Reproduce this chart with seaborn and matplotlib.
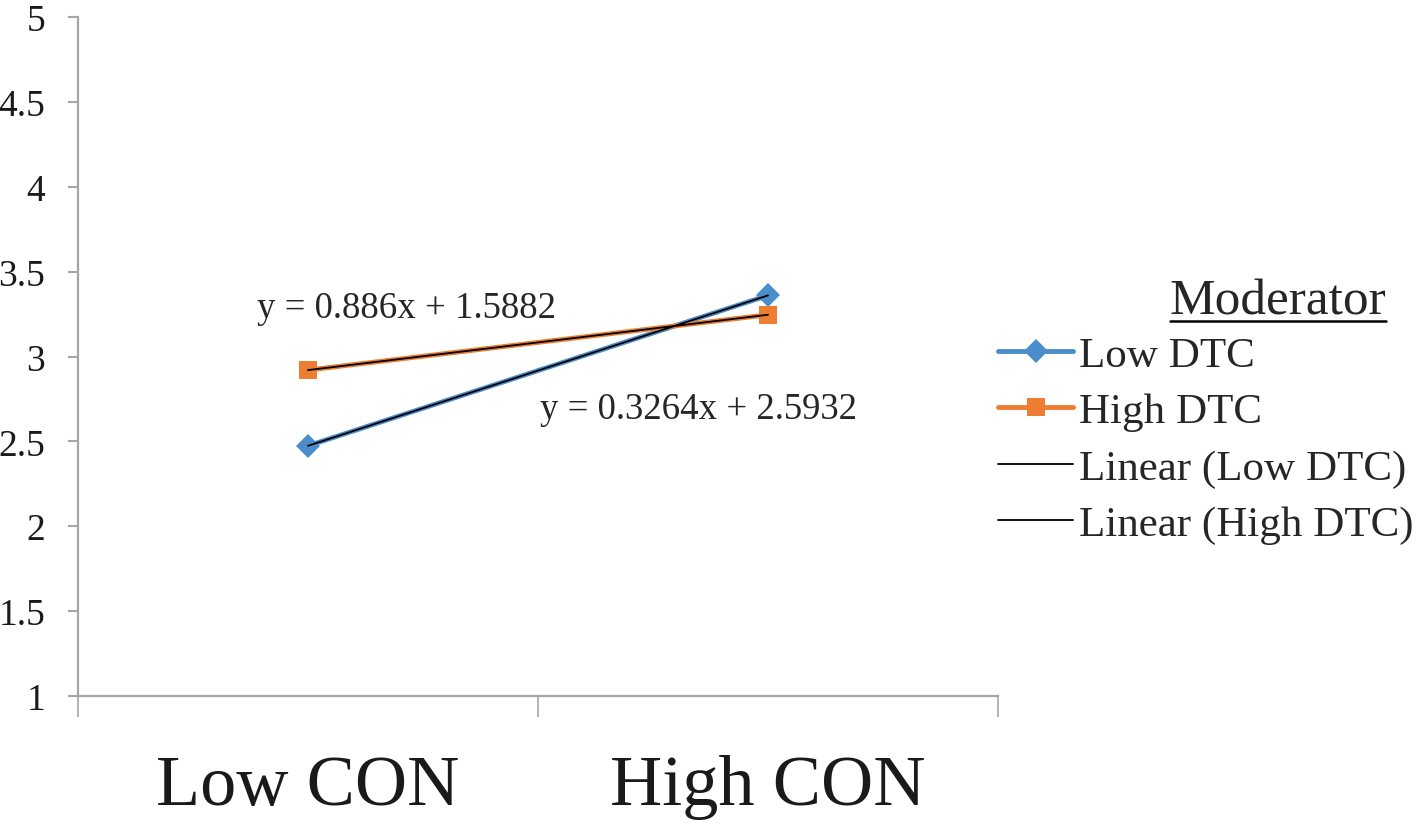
import numpy as np
import pandas as pd
import matplotlib
matplotlib.use("Agg")
import matplotlib.pyplot as plt
from matplotlib.lines import Line2D
import seaborn as sns

conditions = ["Low CON", "High CON"]
series = ["Low DTC", "High DTC"]
low_dtc = [2.474, 3.36]
high_dtc = [2.92, 3.246]
eq_labels = ["y = 0.886x + 1.5882", "y = 0.3264x + 2.5932"]
y_ticks = [1, 1.5, 2, 2.5, 3, 3.5, 4, 4.5, 5]

colors = {"Low DTC": "#4A8DCB", "High DTC": "#ED7D31"}
markers = {"Low DTC": "D", "High DTC": "s"}

sns.set_style("white")
plt.rcParams["font.family"] = ["Liberation Serif", "DejaVu Serif"]

pos = np.arange(len(conditions))
df = pd.DataFrame({
    "pos": np.concatenate([pos, pos]),
    "value": low_dtc + high_dtc,
    "series": [series[0]] * len(pos) + [series[1]] * len(pos),
})

fig = plt.figure(figsize=(14.21, 8.29), dpi=100)
ax = fig.add_axes([78 / 1421, 1 - 697 / 829, 920 / 1421, 679 / 829])

sns.lineplot(data=df, x="pos", y="value", hue="series", style="series",
             palette=colors, markers=markers, dashes=False, linewidth=3.5,
             markersize=12.5, markeredgewidth=0, legend=False, ax=ax)

# linear trendlines (fit on 1, 2 like excel)
for s, vals in zip(series, [low_dtc, high_dtc]):
    k, b = np.polyfit(pos + 1, vals, 1)
    ax.plot(pos, k * (pos + 1) + b, color="black", lw=1.3, zorder=5)

ax.text(-0.11, 3.29, eq_labels[0], fontsize=26.5, va="center", ha="left")
ax.text(0.505, 2.69, eq_labels[1], fontsize=26.5, va="center", ha="left")

ax.set_xlim(-0.5, len(conditions) - 0.5)
ax.set_ylim(1, 5)
ax.set_yticks(y_ticks)
ax.set_yticklabels([f"{t:g}" for t in y_ticks])
ax.set_xticks(np.arange(len(conditions) + 1) - 0.5)
ax.set_xticklabels([])
ax.set_xticks(pos, minor=True)
ax.set_xticklabels(conditions, minor=True)
ax.set_xlabel("")
ax.set_ylabel("")

for side in ["top", "right"]:
    ax.spines[side].set_visible(False)
for side in ["left", "bottom"]:
    ax.spines[side].set_color("#A6A6A6")
    ax.spines[side].set_linewidth(1.6)

ax.tick_params(axis="y", which="major", left=True, length=7.5, width=1.5,
               color="#A6A6A6", labelsize=27, pad=16, labelcolor="#1a1a1a")
ax.tick_params(axis="x", which="major", bottom=True, length=15, width=1.2,
               color="#A6A6A6")
ax.tick_params(axis="x", which="minor", bottom=True, length=0, labelsize=52,
               pad=42, labelcolor="#1a1a1a")

handles = [
    Line2D([], [], color=colors["Low DTC"], lw=3.5, marker="D", markersize=12.5,
           markeredgewidth=0),
    Line2D([], [], color=colors["High DTC"], lw=3.5, marker="s", markersize=12.5,
           markeredgewidth=0),
    Line2D([], [], color="black", lw=1.3),
    Line2D([], [], color="black", lw=1.3),
]
labels = ["Low DTC", "High DTC", "Linear (Low DTC)", "Linear (High DTC)"]
leg = fig.legend(handles, labels, loc="upper left",
                 bbox_to_anchor=(998 / 1421, 1 - 337 / 829), frameon=False,
                 fontsize=31, handlelength=1.75, handletextpad=0.12,
                 labelspacing=0.4, borderpad=0, borderaxespad=0)

title = fig.text(1278 / 1421, 1 - 302 / 829, "Moderator", fontsize=37,
                 ha="center", va="center")
fig.canvas.draw()
bb = title.get_window_extent().transformed(fig.transFigure.inverted())
fig.add_artist(Line2D([bb.x0, bb.x1], [bb.y0 + 0.004, bb.y0 + 0.004],
                      color="black", lw=1.8, transform=fig.transFigure))

fig.savefig("out.png", dpi=100)
